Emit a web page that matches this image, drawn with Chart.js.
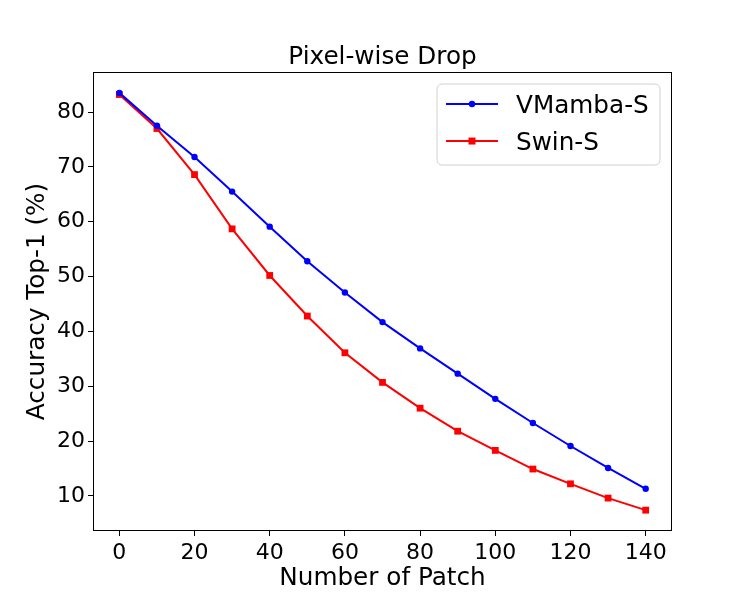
<!DOCTYPE html>
<html>
<head>
<meta charset="utf-8">
<script src="https://cdn.jsdelivr.net/npm/chart.js@4.4.0/dist/chart.umd.min.js"></script>
<style>
  html, body { margin: 0; padding: 0; background: #ffffff; }
  #wrap { width: 747px; height: 598px; }
</style>
</head>
<body>
<div id="wrap"><canvas id="c" width="747" height="598"></canvas></div>
<script>
// ---- data ----
const patches = [0, 10, 20, 30, 40, 50, 60, 70, 80, 90, 100, 110, 120, 130, 140];
const vmambaS = [83.5, 77.5, 71.8, 65.5, 59.1, 52.8, 47.1, 41.7, 36.9, 32.3, 27.7, 23.3, 19.1, 15.1, 11.3];
const swinS   = [83.2, 77.0, 68.6, 58.7, 50.2, 42.8, 36.1, 30.7, 26.0, 21.8, 18.3, 14.9, 12.2, 9.6, 7.4];
const xTicks = [0, 20, 40, 60, 80, 100, 120, 140];
const yTicks = [10, 20, 30, 40, 50, 60, 70, 80];
const seriesNames = ['VMamba-S', 'Swin-S'];
const titleText = 'Pixel-wise Drop';
const xLabel = 'Number of Patch';
const yLabel = 'Accuracy Top-1 (%)';

const FONT = "'DejaVu Sans', 'Liberation Sans', sans-serif";
const toPts = (ys) => patches.map((x, i) => ({ x: x, y: ys[i] }));

const frameAndLegend = {
  id: 'frameAndLegend',
  afterDatasetsDraw(chart) {
    const { ctx, chartArea: a } = chart;
    ctx.save();
    // axes frame
    ctx.strokeStyle = '#000000';
    ctx.lineWidth = 1;
    ctx.strokeRect(Math.round(a.left) + 0.5, Math.round(a.top) + 0.5,
                   Math.round(a.right - a.left) - 1, Math.round(a.bottom - a.top) - 1);
    // legend box
    const bx = a.right - 235, by = a.top + 12, bw = 223, bh = 81, r = 5;
    ctx.beginPath();
    ctx.moveTo(bx + r, by);
    ctx.arcTo(bx + bw, by, bx + bw, by + bh, r);
    ctx.arcTo(bx + bw, by + bh, bx, by + bh, r);
    ctx.arcTo(bx, by + bh, bx, by, r);
    ctx.arcTo(bx, by, bx + bw, by, r);
    ctx.closePath();
    ctx.fillStyle = 'rgba(255,255,255,0.8)';
    ctx.fill();
    ctx.strokeStyle = '#d0d0d0';
    ctx.lineWidth = 1;
    ctx.stroke();
    const rows = [by + 20, by + 57];
    chart.data.datasets.forEach((ds, i) => {
      const y = rows[i];
      ctx.strokeStyle = ds.borderColor;
      ctx.lineWidth = 2;
      ctx.beginPath();
      ctx.moveTo(bx + 9, y);
      ctx.lineTo(bx + 61, y);
      ctx.stroke();
      ctx.fillStyle = ds.borderColor;
      const mx = bx + 35;
      if (ds.pointStyle === 'rect') {
        ctx.fillRect(mx - 3.5, y - 3.5, 7, 7);
      } else {
        ctx.beginPath();
        ctx.arc(mx, y, 3.2, 0, Math.PI * 2);
        ctx.fill();
      }
      ctx.fillStyle = '#000000';
      ctx.font = '24.7px ' + FONT;
      ctx.textBaseline = 'alphabetic';
      ctx.textAlign = 'left';
      ctx.fillText(ds.label, bx + 79, y + 9);
    });
    ctx.restore();
  }
};

new Chart(document.getElementById('c'), {
  type: 'line',
  data: {
    datasets: [
      {
        label: seriesNames[0],
        data: toPts(vmambaS),
        borderColor: '#0000ff',
        backgroundColor: '#0000ff',
        borderWidth: 2,
        pointStyle: 'circle',
        pointRadius: 3.2,
        pointBorderWidth: 0,
        pointHoverRadius: 3.2,
        tension: 0,
        fill: false
      },
      {
        label: seriesNames[1],
        data: toPts(swinS),
        borderColor: '#ff0000',
        backgroundColor: '#ff0000',
        borderWidth: 2,
        pointStyle: 'rect',
        pointRadius: 4.8,
        pointBorderWidth: 0,
        pointHoverRadius: 4.8,
        tension: 0,
        fill: false
      }
    ]
  },
  options: {
    responsive: false,
    animation: false,
    devicePixelRatio: 1,
    layout: { padding: { left: 0, right: 75, top: 0, bottom: 0 } },
    plugins: {
      legend: { display: false },
      tooltip: { enabled: false },
      title: {
        display: true,
        text: titleText,
        fullSize: false,
        color: '#000000',
        font: { family: FONT, size: 24.7, weight: 'normal', lineHeight: 1.2 },
        padding: { top: 42.4, bottom: 0 }
      }
    },
    scales: {
      x: {
        type: 'linear',
        min: -7,
        max: 147,
        afterFit: (s) => { s.height = 67; },
        afterBuildTicks: (s) => { s.ticks = xTicks.map(v => ({ value: v })); },
        border: { display: false },
        grid: { display: true, drawOnChartArea: false, drawTicks: true, tickLength: 5, color: '#000000', lineWidth: 1 },
        ticks: {
          color: '#000000',
          padding: 4,
          maxRotation: 0,
          autoSkip: false,
          font: { family: FONT, size: 22, lineHeight: 1.2 },
          callback: (v) => String(v)
        },
        title: {
          display: true,
          text: xLabel,
          color: '#000000',
          font: { family: FONT, size: 24.7, lineHeight: 1.2 },
          padding: { top: 0, bottom: 5 }
        }
      },
      y: {
        type: 'linear',
        min: 3.6,
        max: 87.3,
        afterFit: (s) => { s.width = 93; },
        afterBuildTicks: (s) => { s.ticks = yTicks.map(v => ({ value: v })); },
        border: { display: false },
        grid: { display: true, drawOnChartArea: false, drawTicks: true, tickLength: 5, color: '#000000', lineWidth: 1 },
        ticks: {
          color: '#000000',
          padding: 3,
          autoSkip: false,
          font: { family: FONT, size: 22, lineHeight: 1.2 },
          callback: (v) => String(v)
        },
        title: {
          display: true,
          text: yLabel,
          color: '#000000',
          font: { family: FONT, size: 24.7, lineHeight: 1.2 },
          padding: { top: 23, bottom: 0 }
        }
      }
    }
  },
  plugins: [frameAndLegend]
});
</script>
</body>
</html>
